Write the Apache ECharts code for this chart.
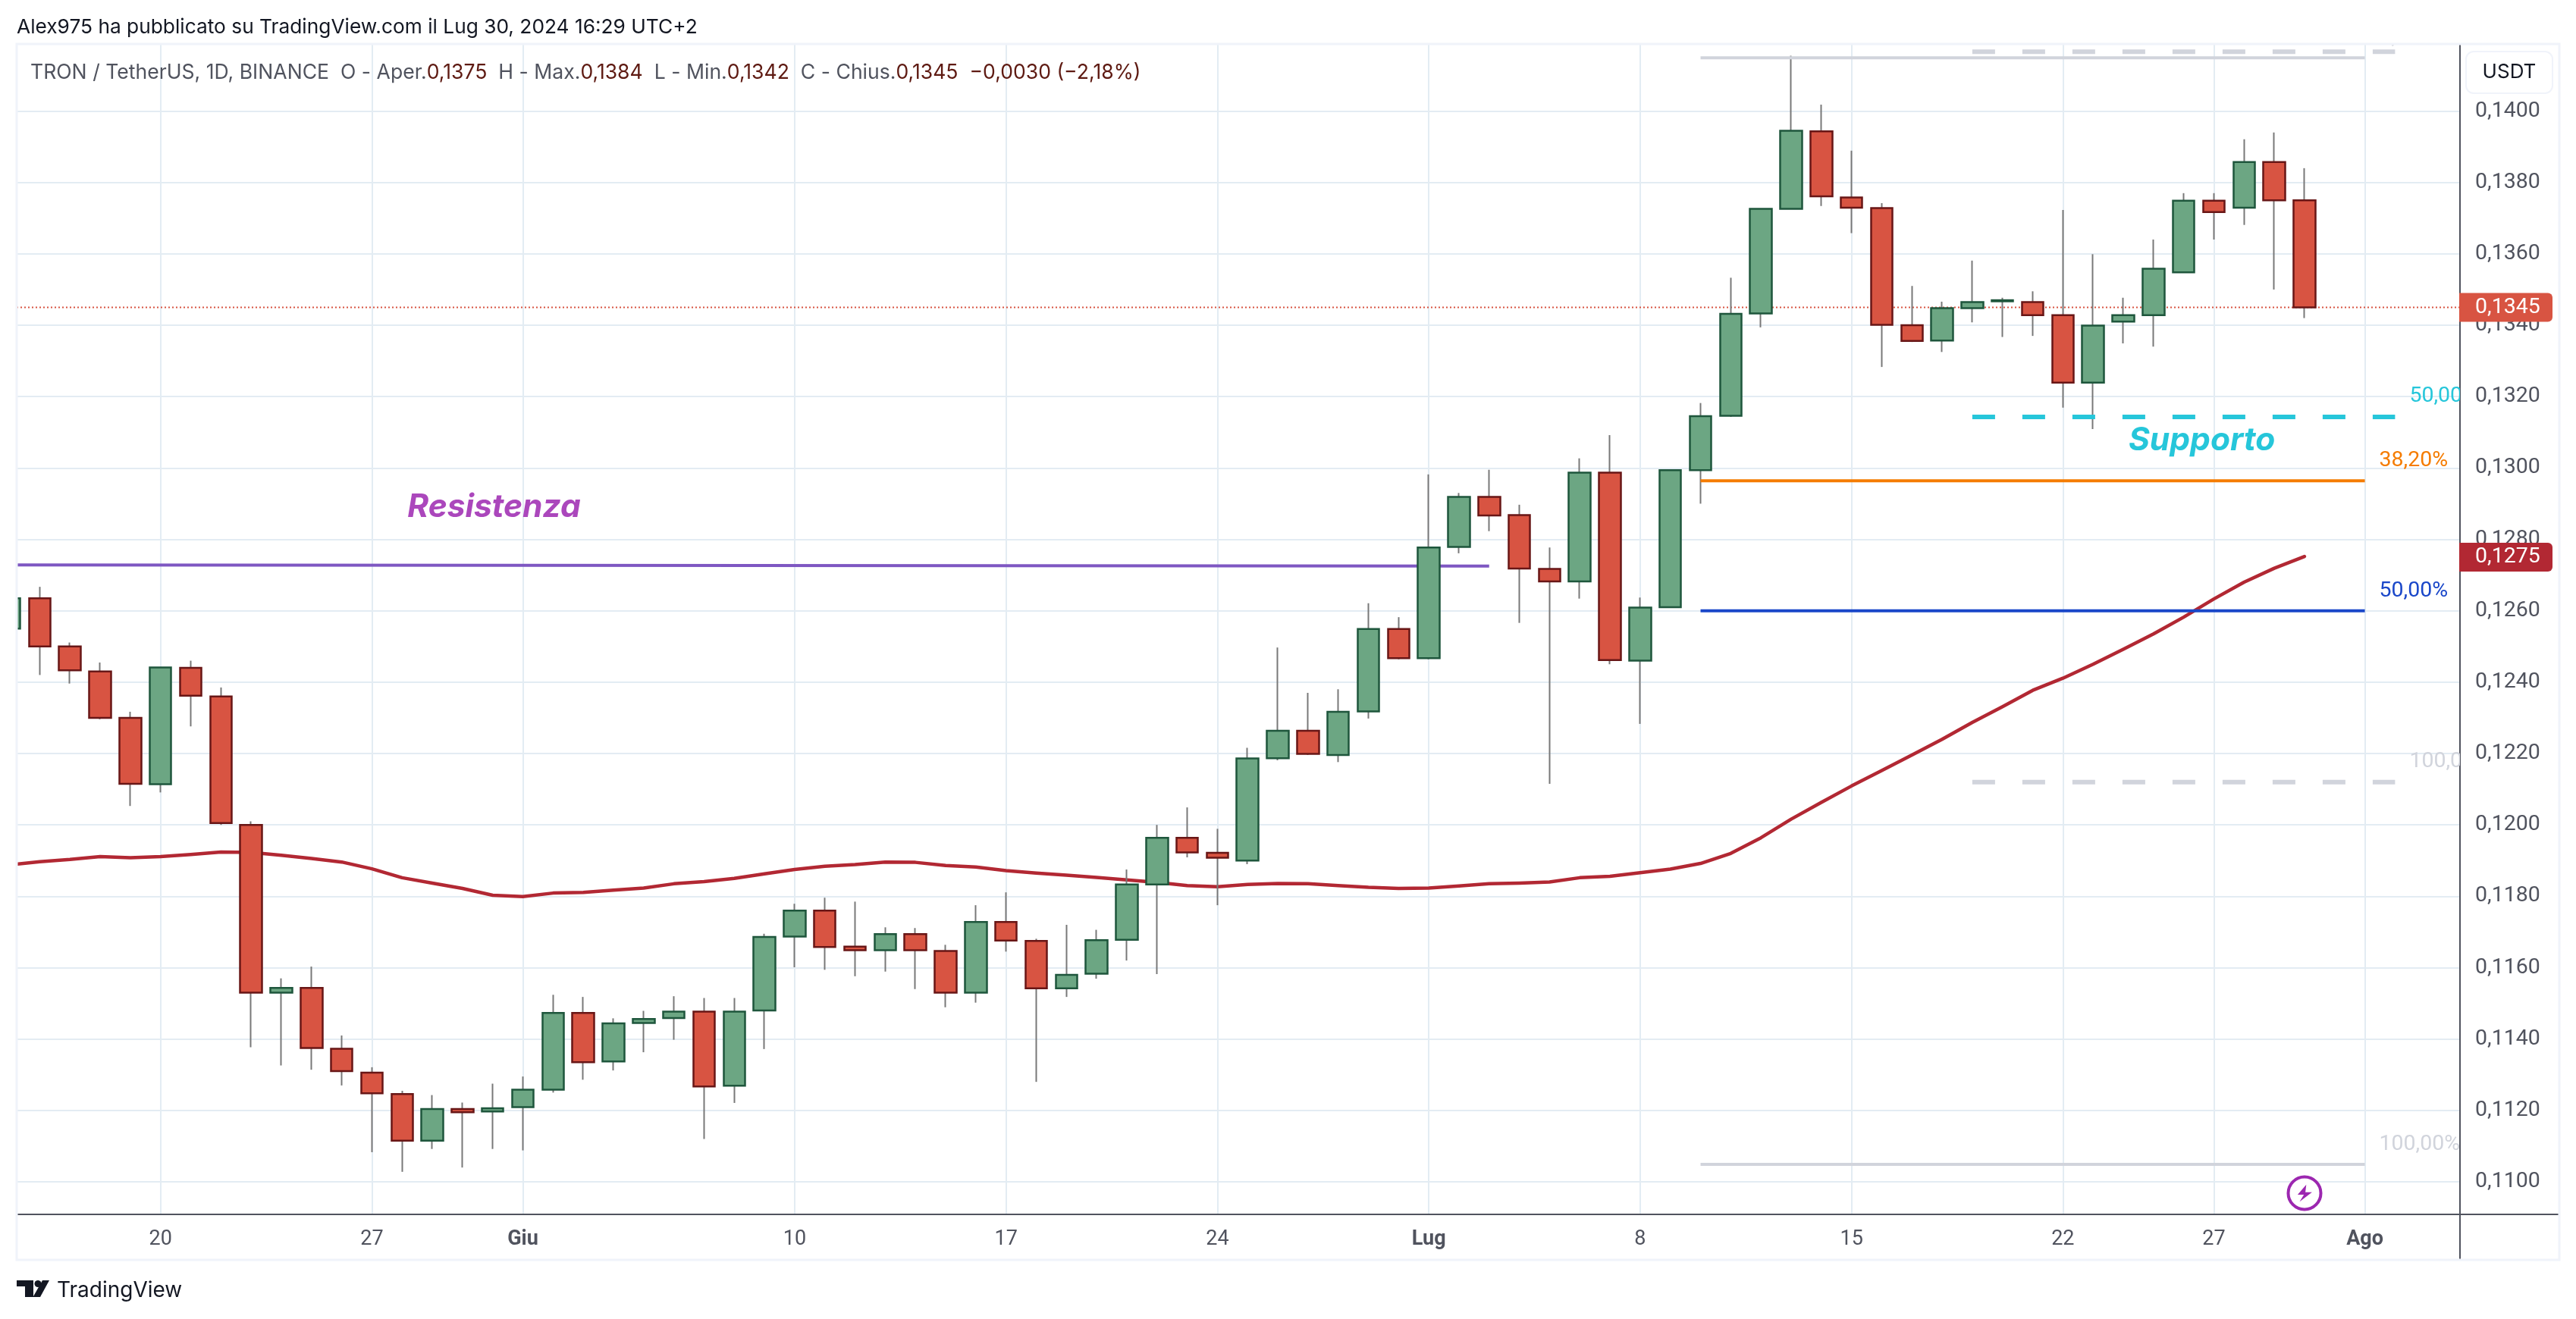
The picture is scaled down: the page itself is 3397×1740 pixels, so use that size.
<!DOCTYPE html>
<html>
<head>
<meta charset="utf-8">
<title>TRON / TetherUS</title>
<script src="https://cdn.jsdelivr.net/npm/echarts@6/dist/echarts.min.js"></script>
<style>html,body{margin:0;padding:0;background:#fff}#c{width:3397px;height:1740px}</style>
</head>
<body>
<div id="c"></div>
<script>
const dates = ["2024-05-15","2024-05-16","2024-05-17","2024-05-18","2024-05-19","2024-05-20","2024-05-21","2024-05-22","2024-05-23","2024-05-24","2024-05-25","2024-05-26","2024-05-27","2024-05-28","2024-05-29","2024-05-30","2024-05-31",
"2024-06-01","2024-06-02","2024-06-03","2024-06-04","2024-06-05","2024-06-06","2024-06-07","2024-06-08","2024-06-09","2024-06-10","2024-06-11","2024-06-12","2024-06-13","2024-06-14","2024-06-15","2024-06-16","2024-06-17","2024-06-18","2024-06-19","2024-06-20","2024-06-21","2024-06-22","2024-06-23","2024-06-24","2024-06-25","2024-06-26","2024-06-27","2024-06-28","2024-06-29","2024-06-30",
"2024-07-01","2024-07-02","2024-07-03","2024-07-04","2024-07-05","2024-07-06","2024-07-07","2024-07-08","2024-07-09","2024-07-10","2024-07-11","2024-07-12","2024-07-13","2024-07-14","2024-07-15","2024-07-16","2024-07-17","2024-07-18","2024-07-19","2024-07-20","2024-07-21","2024-07-22","2024-07-23","2024-07-24","2024-07-25","2024-07-26","2024-07-27","2024-07-28","2024-07-29","2024-07-30"];
const opens = [.1255,.12635,.1250,.1243,.1230,.12114,.1244,.1236,.1200,.1153,.11543,.11373,.11306,.11246,.11115,.11204,.11197,
.11209,.11258,.11473,.11337,.11445,.11459,.11477,.11269,.1148,.11687,.1176,.11659,.11649,.11694,.11647,.1153,.11728,.11675,.11542,.11583,.11678,.11833,.11964,.11922,.1190,.12187,.12264,.12196,.12318,.12549,
.12467,.12779,.12919,.12868,.12717,.12682,.12987,.1246,.1261,.12994,.13146,.13433,.13726,.13943,.13758,.13728,.1340,.13357,.13448,.13467,.13465,.13428,.13239,.1341,.13428,.13548,.13749,.13729,.13857,.1375];
const closes = [.12635,.1250,.12433,.1230,.12115,.12441,.12362,.12005,.1153,.11543,.11375,.1131,.11248,.11115,.11204,.11195,.11206,
.11258,.11473,.11335,.11444,.11456,.11477,.11267,.11477,.11686,.1176,.11658,.11649,.11694,.11649,.1153,.11728,.11676,.11542,.1158,.11677,.11833,.11964,.11923,.11908,.12186,.12264,.12199,.12317,.12549,.12467,
.12777,.12919,.12867,.12718,.12682,.12987,.12462,.12609,.12994,.13145,.13432,.13726,.13945,.13761,.13729,.13401,.13356,.13448,.13465,.1347,.13428,.13239,.13399,.13428,.13558,.13749,.13717,.13857,.1375,.1345];
const lows = [.1250,.1242,.12396,.12296,.12053,.12091,.12276,.1200,.11377,.11326,.11314,.1127,.11083,.11028,.11092,.1104,.11092,
.11088,.1125,.11286,.11312,.11363,.11398,.1112,.11221,.11372,.11601,.11594,.11576,.11589,.1154,.11489,.11502,.11645,.1128,.11518,.11569,.1162,.11582,.11909,.11775,.1189,.12181,.12196,.12176,.12298,.12464,
.12464,.12761,.12823,.12566,.12115,.12634,.1245,.12283,.1261,.1290,.13143,.13394,.13726,.13734,.13658,.13283,.13353,.13325,.13408,.13367,.1337,.13169,.13109,.13349,.1334,.13548,.1364,.13681,.135,.1342];
const highs = [.1266,.12667,.12511,.12455,.12317,.12441,.1246,.12385,.1201,.1157,.11603,.1141,.11321,.11255,.11243,.11222,.11275,
.11295,.11524,.11518,.11458,.11479,.1152,.11515,.11515,.11695,.11779,.11796,.11785,.11713,.11711,.11664,.11775,.11811,.11681,.1172,.11706,.11875,.1200,.12049,.11989,.12216,.12497,.1237,.1238,.12621,.12582,
.12982,.1293,.12995,.12897,.12777,.13027,.13092,.12637,.12994,.13182,.13533,.13726,.14155,.14018,.13889,.13742,.1351,.13466,.13581,.13477,.13495,.13723,.13599,.13477,.1364,.1377,.1377,.13921,.1394,.1384];
const ma = [.11888,.11897,.11903,.11911,.11908,.11911,.11917,.11924,.11923,.11915,.11906,.11896,.11877,.11852,.11837,.11822,.11803,
.11799,.11809,.11811,.11817,.11823,.11835,.11841,.1185,.11863,.11875,.11884,.11889,.11896,.11895,.11886,.11882,.11872,.11865,.11859,.11853,.11846,.11839,.1183,.11827,.11833,.11836,.11835,.1183,.11825,.11822,
.11823,.11829,.11835,.11837,.1184,.11852,.11856,.11866,.11876,.11892,.1192,.11964,.12016,.12063,.12109,.12152,.12196,.1224,.12287,.12331,.12377,.12411,.1245,.12492,.12535,.12582,.12633,.1268,.12719,.12752];

const xTickDates = ["2024-05-20","2024-05-27","2024-06-01","2024-06-10","2024-06-17","2024-06-24","2024-07-01","2024-07-08","2024-07-15","2024-07-22","2024-07-27","2024-08-01"];
const xTickLabels = ["20","27","Giu","10","17","24","Lug","8","15","22","27","Ago"];
const xTickBold = [false,false,true,false,false,false,true,false,false,false,false,true];
const yTicks = [0.11,0.112,0.114,0.116,0.118,0.12,0.122,0.124,0.126,0.128,0.13,0.132,0.134,0.136,0.138,0.14];

const resistanceDates = ["2024-05-10","2024-07-03"];
const resistanceValues = [0.12729,0.12725];
const fibSolidDates = ["2024-07-10","2024-08-01"];
const fibSolidValues = [0.14149,0.12964,0.1260,0.11049];
const fibSolidNames = ["0,00%","38,20%","50,00%","100,00%"];
const fibSolidColors = ["#d1d4dc","#f57c00","#1a47c9","#d1d4dc"];
const fibDashDates = ["2024-07-19","2024-08-02"];
const fibDashValues = [0.14166,0.13143,0.1212];
const fibDashNames = ["0,00%","50,00%","100,00%"];
const fibDashColors = ["#d1d4dc","#26c6da","#d1d4dc"];
const notes = [
  {date:"2024-05-28", value:0.12895, text:"Resistenza", color:"#ab47bc"},
  {date:"2024-07-24", value:0.1308, text:"Supporto", color:"#26c6da"}
];
const lastPrice = 0.1345, lastMa = 0.1275;

const T = s => { const p = s.split('-').map(Number); return Date.UTC(p[0],p[1]-1,p[2]); };
const DAY = 864e5;
const priceFmt = v => v.toFixed(4).replace('.',',');
const FONT = 'Inter, "Noto Sans", sans-serif';
const NUMFONT = 'Roboto, Inter, sans-serif';
const TXT = '#50535e', GRID = '#e3ecf3', AXIS = '#50535e', FRAME = '#f0f3fa';
const UP='#6ca683', UPB='#1e563c', DN='#d85442', DNB='#681616', WICK='#787878', MA='#b22833';
const xMin = T("2024-05-20") - 4.764*DAY, xMax = T("2024-05-20") + 76.15*DAY;
const xTickTimes = xTickDates.map(T);

const wickData = dates.map((d,i)=>[T(d),opens[i],closes[i],lows[i],highs[i]]);
const bodyData = dates.map((d,i)=>[T(d),opens[i],closes[i],Math.min(opens[i],closes[i]),Math.max(opens[i],closes[i])]);

const seg = (name,a,b,color,width,type,z,cap) => ({name,type:'line',data:[a,b],symbol:'none',silent:true,z,
  lineStyle:{color,width,type:type||'solid',cap:cap||'butt'}});

const fibSeries = [];
fibSolidValues.forEach((v,i)=>fibSeries.push(seg('fib'+i,[T(fibSolidDates[0]),v],[T(fibSolidDates[1]),v],fibSolidColors[i],4,'solid',5)));
fibDashValues.forEach((v,i)=>fibSeries.push(seg('fibd'+i,[T(fibDashDates[0]),v],[T(fibDashDates[1]),v],fibDashColors[i],6,[30,36],5)));

const textItems = [];
fibSolidValues.forEach((v,i)=>textItems.push({d:T(fibSolidDates[1]),v,text:fibSolidNames[i],color:fibSolidColors[i],font:'28.5px '+NUMFONT,dx:19,dy:-26}));
fibDashValues.forEach((v,i)=>textItems.push({d:T(fibDashDates[1]),v,text:fibDashNames[i],color:fibDashColors[i],font:'28.5px '+NUMFONT,dx:19,dy:-27}));
notes.forEach(n=>textItems.push({d:T(n.date),v:n.value,text:n.text,color:n.color,font:'italic bold 42.5px '+FONT,dx:7,dy:2}));

const tagItems = [{v:lastPrice,color:DN},{v:lastMa,color:MA}];

const option = {
  animation:false,
  backgroundColor:'#ffffff',
  grid:{left:22,right:153,top:58,height:1544,containLabel:false},
  xAxis:{type:'value',min:xMin,max:xMax,scale:true,
    axisLine:{show:true,onZero:false,lineStyle:{color:AXIS,width:2}},
    axisTick:{show:false,customValues:xTickTimes},
    splitLine:{show:true,lineStyle:{color:GRID,width:2}},
    axisLabel:{customValues:xTickTimes,margin:20,hideOverlap:false,color:TXT,fontFamily:NUMFONT,fontSize:27,
      formatter:v=>{const i=xTickTimes.indexOf(v);return i<0?'':(xTickBold[i]?'{b|'+xTickLabels[i]+'}':xTickLabels[i]);},
      rich:{b:{fontWeight:'bold',color:TXT,fontFamily:NUMFONT,fontSize:27}}}},
  yAxis:{type:'value',position:'right',min:0.109087,max:0.14188,scale:true,
    axisLine:{show:true,onZero:false,lineStyle:{color:AXIS,width:2}},
    axisTick:{show:false,customValues:yTicks},
    splitLine:{show:true,lineStyle:{color:GRID,width:2}},
    axisLabel:{customValues:yTicks,margin:20,color:TXT,fontFamily:NUMFONT,fontSize:28.5,formatter:priceFmt}},
  series:[
    seg('last',[xMin,lastPrice],[xMax,lastPrice],DN,2,[2,3],1),
    {name:'MA',type:'line',data:dates.map((d,i)=>[T(d),ma[i]]),symbol:'none',silent:true,z:2,lineStyle:{color:MA,width:4.5,cap:'round',join:'round'}},
    seg('resistance',[T(resistanceDates[0]),resistanceValues[0]],[T(resistanceDates[1]),resistanceValues[1]],'#7e57c2',4,'solid',2),
    {name:'wicks',type:'candlestick',data:wickData,barWidth:1,z:3,silent:true,
      itemStyle:{color:WICK,color0:WICK,borderColor:WICK,borderColor0:WICK,borderWidth:2}},
    {name:'bodies',type:'candlestick',data:bodyData,barWidth:29,z:4,silent:true,
      itemStyle:{color:UP,color0:DN,borderColor:UPB,borderColor0:DNB,borderWidth:2.5}},
    ...fibSeries,
    {name:'labels',type:'custom',clip:true,z:6,silent:true,
      data:textItems.map(t=>[t.d,t.v]),encode:{x:0,y:1},
      renderItem:(p,api)=>{const t=textItems[p.dataIndex];const c=api.coord([api.value(0),api.value(1)]);
        return {type:'text',x:c[0]+t.dx,y:c[1]+t.dy,style:{text:t.text,fill:t.color,font:t.font,textAlign:'left',textVerticalAlign:'middle'}};}},
    {name:'tags',type:'custom',clip:false,z:30,silent:true,
      data:tagItems.map(t=>[xMax,t.v]),encode:{x:0,y:1},
      renderItem:(p,api)=>{const t=tagItems[p.dataIndex];const c=api.coord([api.value(0),api.value(1)]);
        return {type:'group',x:c[0],y:c[1],children:[
          {type:'rect',shape:{x:-1,y:-19,width:123,height:38,r:[0,6,6,0]},style:{fill:t.color}},
          {type:'text',x:20,y:0,style:{text:priceFmt(t.v),fill:'#ffffff',font:'28.5px '+NUMFONT,textAlign:'left',textVerticalAlign:'middle'}}
        ]};}}
  ],
  graphic:[
    {type:'rect',z:25,silent:true,shape:{x:0,y:58,width:21,height:1546},style:{fill:'#ffffff'}},
    {type:'rect',z:26,silent:true,shape:{x:22,y:58,width:3353,height:1604},style:{fill:'none',stroke:FRAME,lineWidth:3}},
    {type:'line',z:1,silent:true,shape:{x1:3244,y1:1602,x2:3244,y2:1661},style:{stroke:AXIS,lineWidth:2}},
    {type:'line',z:1,silent:true,shape:{x1:3245,y1:1602,x2:3374,y2:1602},style:{stroke:AXIS,lineWidth:2}},
    {type:'rect',z:1,silent:true,shape:{x:3252,y:68,width:114,height:55,r:10},style:{fill:'#fff',stroke:FRAME,lineWidth:2}},
    {type:'text',z:2,silent:true,x:3309,y:95,style:{text:'USDT',fill:'#131722',font:'26px '+FONT,textAlign:'center',textVerticalAlign:'middle'}},
    {type:'text',z:2,silent:true,x:22,y:36,style:{text:'Alex975 ha pubblicato su TradingView.com il Lug 30, 2024 16:29 UTC+2',fill:'#131722',font:'26.3px '+FONT,textAlign:'left',textVerticalAlign:'middle'}},
    {type:'text',z:40,silent:true,x:40,y:96,style:{
      text:'TRON / TetherUS, 1D, BINANCE  O - Aper.{v|0,1375}  H - Max.{v|0,1384}  L - Min.{v|0,1342}  C - Chius.{v|0,1345}  {v|−0,0030 (−2,18%)}',
      fill:TXT,font:'26.6px '+FONT,textVerticalAlign:'middle',rich:{v:{fill:'#5e1a12',font:'26.6px '+FONT}}}},
    {type:'group',z:40,x:3039,y:1574,silent:true,children:[
      {type:'circle',shape:{cx:0,cy:0,r:21.5},style:{fill:'#fff',stroke:'#9c27b0',lineWidth:4},z:40},
      {type:'polygon',shape:{points:[[2.3,-11.3],[-9.1,2],[-0.8,2],[-6.5,11.3],[9.9,-1.3],[1.1,-1.3]]},style:{fill:'#9c27b0'},z:41}
    ]},
    {type:'polygon',silent:true,shape:{points:[[22,1689],[44,1689],[44,1711],[33,1711],[33,1697],[22,1697]]},style:{fill:'#131722'}},
    {type:'circle',silent:true,shape:{cx:50,cy:1693.5,r:4.5},style:{fill:'#131722'}},
    {type:'polygon',silent:true,shape:{points:[[56,1689],[65,1689],[53,1711],[43.5,1711]]},style:{fill:'#131722'}},
    {type:'text',silent:true,x:75,y:1703,style:{text:'TradingView',fill:'#131722',font:'28px '+FONT,textAlign:'left',textVerticalAlign:'middle'}}
  ]
};
echarts.init(document.getElementById('c'),null,{renderer:'canvas'}).setOption(option);
</script>
</body>
</html>
